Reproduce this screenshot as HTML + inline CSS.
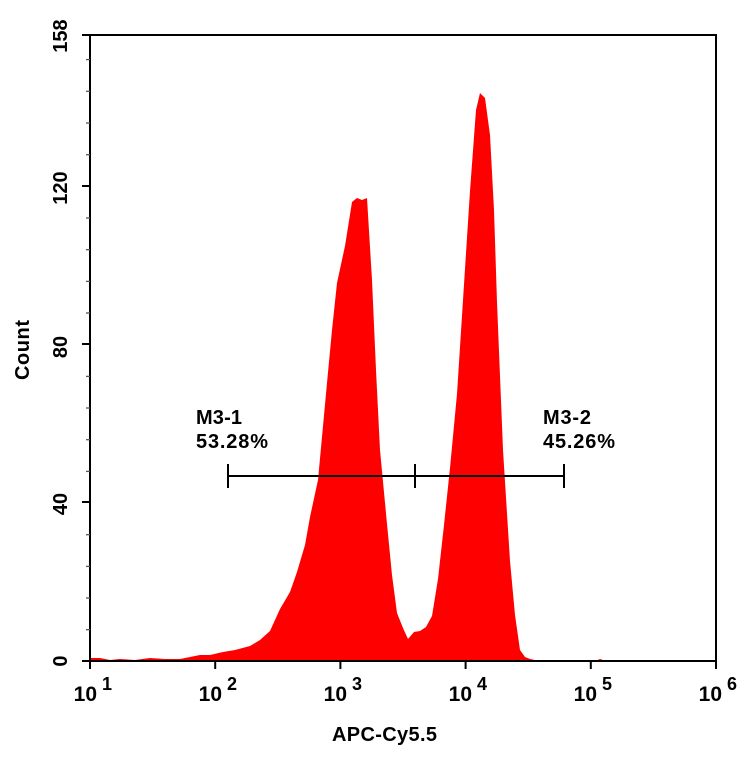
<!DOCTYPE html>
<html><head><meta charset="utf-8"><style>
html,body{margin:0;padding:0;background:#fff;}
svg{display:block;font-family:"Liberation Sans",Arial,sans-serif;font-weight:bold;}
</style></head><body>
<svg width="746" height="763" viewBox="0 0 746 763" xmlns="http://www.w3.org/2000/svg">
<path fill="#ff0000" d="M90,661 L90,658 L100,658 L110,660 L120,659 L135,660 L150,658 L165,659 L180,659 L190,657 L200,655 L210,655 L223,652 L235,650 L250,646 L260,640 L270,631 L280,609 L290,592 L297,572 L305,545 L310,517 L318,480 L327,383 L332,330 L337,283 L345,246 L352,202 L357,198 L362,200 L367,198 L372,280 L376,370 L380,450 L387,524 L392,575 L397,613 L403,628 L408,639 L414,632 L420,631 L426,627 L432,616 L438,579 L444,525 L450,468 L457,394 L463,300 L470,191 L476,110 L480,93 L485,98 L490,135 L494,210 L497,302 L503,450 L510,561 L515,615 L520,650 L525,657 L530,659 L540,661 Z"/>
<path fill="#ff0000" d="M595,661 L600,659 L606,661 Z"/>
<g stroke="#000" stroke-width="2" fill="none">
<rect x="90" y="35" width="626" height="626"/>
</g>
<g stroke="#000" stroke-width="2">
<line x1="82" y1="35" x2="90" y2="35"/>
<line x1="82" y1="186" x2="90" y2="186"/>
<line x1="82" y1="344" x2="90" y2="344"/>
<line x1="82" y1="502" x2="90" y2="502"/>
<line x1="82" y1="661" x2="90" y2="661"/>
</g>
<g stroke="#555" stroke-width="1.3">
<line x1="86" y1="59.6" x2="90" y2="59.6"/><line x1="86" y1="91.3" x2="90" y2="91.3"/><line x1="86" y1="123" x2="90" y2="123"/><line x1="86" y1="154.7" x2="90" y2="154.7"/>
<line x1="86" y1="218" x2="90" y2="218"/><line x1="86" y1="249.7" x2="90" y2="249.7"/><line x1="86" y1="281.4" x2="90" y2="281.4"/><line x1="86" y1="313" x2="90" y2="313"/>
<line x1="86" y1="376.4" x2="90" y2="376.4"/><line x1="86" y1="408" x2="90" y2="408"/><line x1="86" y1="439.7" x2="90" y2="439.7"/><line x1="86" y1="471.4" x2="90" y2="471.4"/>
<line x1="86" y1="534.7" x2="90" y2="534.7"/><line x1="86" y1="566.4" x2="90" y2="566.4"/><line x1="86" y1="598" x2="90" y2="598"/><line x1="86" y1="629.7" x2="90" y2="629.7"/>
</g>
<g stroke="#000" stroke-width="2">
<line x1="90" y1="661" x2="90" y2="669"/><line x1="215.2" y1="661" x2="215.2" y2="669"/><line x1="340.4" y1="661" x2="340.4" y2="669"/><line x1="465.6" y1="661" x2="465.6" y2="669"/><line x1="590.8" y1="661" x2="590.8" y2="669"/><line x1="716" y1="661" x2="716" y2="669"/>
</g>
<g stroke="#555" stroke-width="1.2" id="xmin"></g>
<script>
(function(){var g=document.getElementById('xmin');var s='';
for(var d=0;d<5;d++){for(var k=2;k<10;k++){var x=90+125.2*(d+Math.log10(k));s+='<line x1="'+x+'" y1="661" x2="'+x+'" y2="665"/>';}}
g.innerHTML=s;})();
</script>
<g font-size="21" fill="#000">
<text x="97" y="701" text-anchor="end">10</text><text x="102" y="690" font-size="18">1</text>
<text x="222" y="701" text-anchor="end">10</text><text x="227" y="690" font-size="18">2</text>
<text x="347" y="701" text-anchor="end">10</text><text x="352" y="690" font-size="18">3</text>
<text x="472" y="701" text-anchor="end">10</text><text x="477" y="690" font-size="18">4</text>
<text x="597" y="701" text-anchor="end">10</text><text x="602" y="690" font-size="18">5</text>
<text x="722" y="701" text-anchor="end">10</text><text x="727" y="690" font-size="18">6</text>
</g>
<g font-size="20" fill="#000" text-anchor="middle">
<text transform="translate(67,36) rotate(-90)">158</text>
<text transform="translate(67,188) rotate(-90)">120</text>
<text transform="translate(67,347) rotate(-90)">80</text>
<text transform="translate(67,504) rotate(-90)">40</text>
<text transform="translate(67,661) rotate(-90)">0</text>
<text transform="translate(29,350) rotate(-90)" textLength="60">Count</text>
</g>
<text x="332" y="741" font-size="20" textLength="105">APC-Cy5.5</text>
<g stroke="#000" stroke-width="2">
<line x1="228" y1="476" x2="564" y2="476"/>
<line x1="228" y1="464" x2="228" y2="488"/>
<line x1="415" y1="464" x2="415" y2="488"/>
<line x1="564" y1="464" x2="564" y2="488"/>
</g>
<g font-size="20" fill="#000">
<text x="196" y="424" textLength="46">M3-1</text>
<text x="196" y="448" textLength="72">53.28%</text>
<text x="543" y="424" textLength="48">M3-2</text>
<text x="543" y="448" textLength="72">45.26%</text>
</g>
</svg>
</body></html>
